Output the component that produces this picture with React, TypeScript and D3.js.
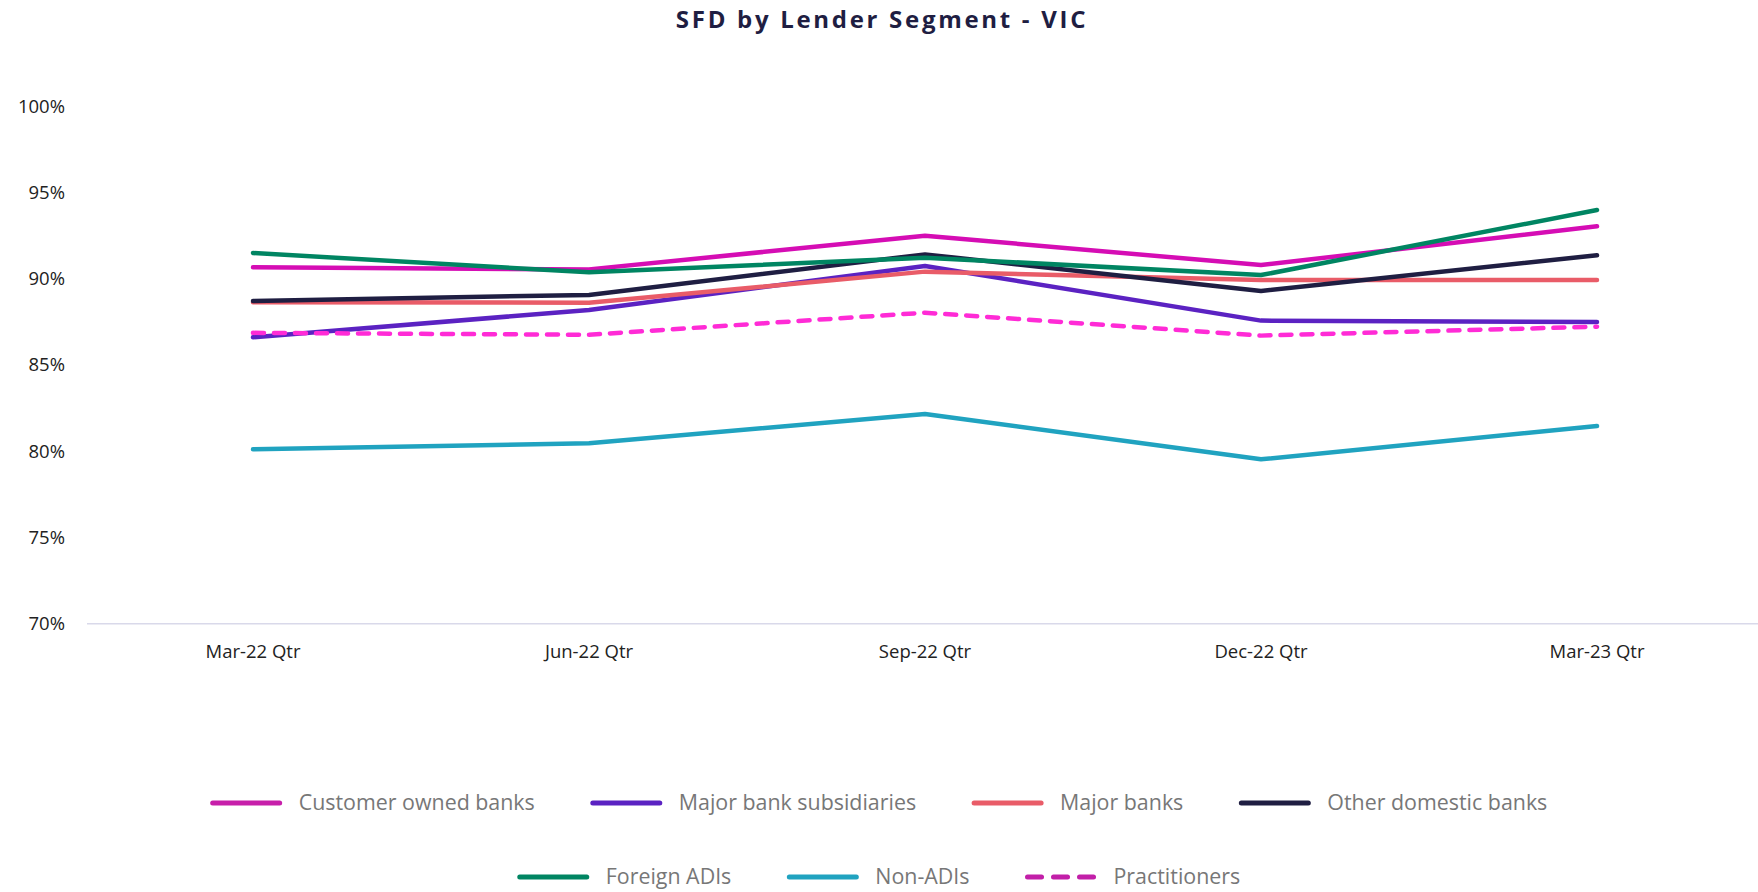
import React from "react";
import * as d3 from "d3";

const quarters = ["Mar-22 Qtr", "Jun-22 Qtr", "Sep-22 Qtr", "Dec-22 Qtr", "Mar-23 Qtr"];
const seriesNames = [
  "Customer owned banks",
  "Major bank subsidiaries",
  "Major banks",
  "Other domestic banks",
  "Foreign ADIs",
  "Non-ADIs",
  "Practitioners",
];
const customerOwned = [90.66, 90.54, 92.49, 90.79, 93.04];
const majorSubsidiaries = [86.6, 88.19, 90.74, 87.57, 87.49];
const majorBanks = [88.63, 88.61, 90.41, 89.92, 89.92];
const otherDomestic = [88.71, 89.06, 91.41, 89.29, 91.36];
const foreignADIs = [91.49, 90.37, 91.22, 90.21, 93.98];
const nonADIs = [80.11, 80.46, 82.16, 79.53, 81.46];
const practitioners = [86.86, 86.75, 88.03, 86.7, 87.22];
const yTicks = [70, 75, 80, 85, 90, 95, 100];

const seriesValues = [customerOwned, majorSubsidiaries, majorBanks, otherDomestic, foreignADIs, nonADIs, practitioners];
const lineColors = ["#D50DB4", "#5B22C2", "#E95C68", "#1F1E42", "#008562", "#20A3C0", "#FF2BD6"];
const legendColors = ["#C71FAA", "#5B22C2", "#E95C68", "#1F1E42", "#008562", "#20A3C0", "#C21FA8"];
const dashed = [false, false, false, false, false, false, true];

const W = 1758;
const H = 892;

export default function App() {
  const x = d3.scalePoint<string>().domain(quarters).range([85, 1765]).padding(0.5);
  const y = d3.scaleLinear().domain([70, 100]).range([623.7, 106.2]);
  const line = d3
    .line<number>()
    .x((_, i) => x(quarters[i]) as number)
    .y((d) => y(d));

  const legendFamily = "'Open Sans', sans-serif";
  const legendSize = 21.4;
  const measure = (t: string) => {
    const c = document.createElement("canvas").getContext("2d")!;
    c.font = `${legendSize}px ${legendFamily}`;
    return c.measureText(t).width;
  };
  const rows = [
    [0, 1, 2, 3],
    [4, 5, 6],
  ];
  const rowY = [803, 877];
  const swatch = 71;
  const swGap = 17;
  const itemGap = 56;
  const legendItems: { i: number; x: number; y: number }[] = [];
  rows.forEach((row, r) => {
    const widths = row.map((i) => swatch + swGap + measure(seriesNames[i]));
    const total = d3.sum(widths) + itemGap * (row.length - 1);
    let cx = W / 2 - total / 2;
    row.forEach((i, k) => {
      legendItems.push({ i, x: cx, y: rowY[r] });
      cx += widths[k] + itemGap;
    });
  });

  const axisFont = "'Open Sans', sans-serif";

  return (
    <svg
      width={W}
      height={H}
      style={{ position: "absolute", left: 0, top: 0, background: "#fff" }}
    >
      <text
        x={W / 2 + 3}
        y={28}
        textAnchor="middle"
        fontFamily="'Open Sans', sans-serif"
        fontWeight={700}
        fontSize={24}
        letterSpacing={2.7}
        fill="#1F1E42"
      >
        SFD by Lender Segment - VIC
      </text>

      {yTicks.map((t) => (
        <text
          key={t}
          x={65}
          y={y(t)}
          dy="0.35em"
          textAnchor="end"
          fontFamily={axisFont}
          fontSize={18.5}
          fill="#222"
        >
          {t}%
        </text>
      ))}

      <line x1={87} x2={W} y1={y(70)} y2={y(70)} stroke="#D9D9EA" strokeWidth={1.5} />

      {quarters.map((q) => (
        <text
          key={q}
          x={x(q)}
          y={652}
          dy="0.35em"
          textAnchor="middle"
          fontFamily={axisFont}
          fontSize={18.5}
          fill="#222"
        >
          {q}
        </text>
      ))}

      {seriesValues.map((vals, i) => (
        <path
          key={seriesNames[i]}
          d={line(vals) || ""}
          fill="none"
          stroke={lineColors[i]}
          strokeWidth={4.5}
          strokeLinecap="round"
          strokeLinejoin="round"
          strokeDasharray={dashed[i] ? "11,10" : undefined}
        />
      ))}

      {legendItems.map(({ i, x: lx, y: ly }) => (
        <g key={seriesNames[i]}>
          <line
            x1={lx + 2}
            x2={lx + swatch - 2}
            y1={ly}
            y2={ly}
            stroke={legendColors[i]}
            strokeWidth={5}
            strokeLinecap="round"
            strokeDasharray={dashed[i] ? "14,12" : undefined}
          />
          <text
            x={lx + swatch + swGap}
            y={ly}
            dy="0.35em"
            fontFamily={legendFamily}
            fontSize={legendSize}
            fill="#777"
          >
            {seriesNames[i]}
          </text>
        </g>
      ))}
    </svg>
  );
}
